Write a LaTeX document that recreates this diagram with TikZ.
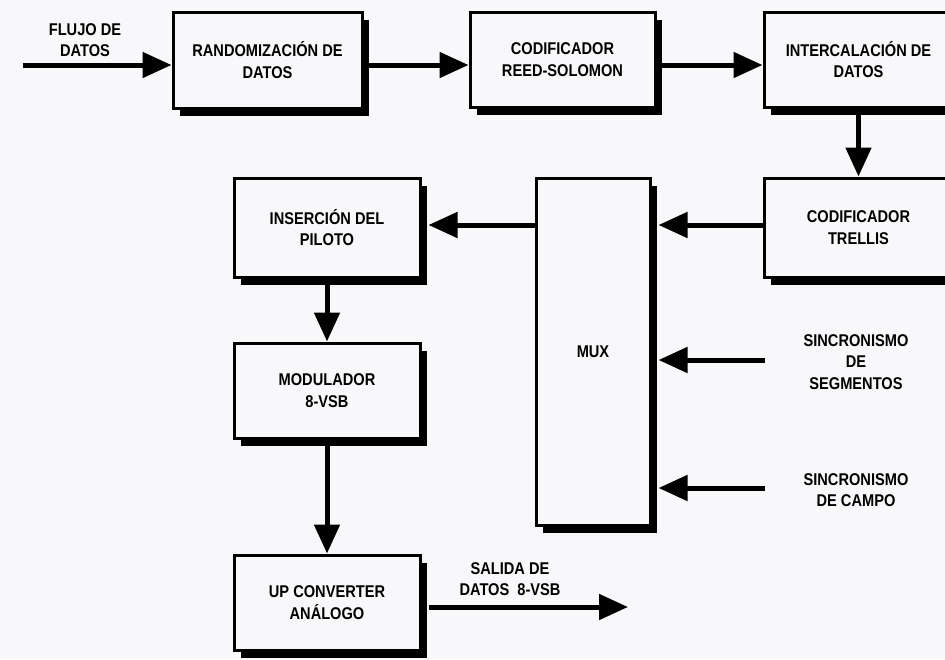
\documentclass[tikz,border=0pt]{standalone}
\usepackage{fontspec}
\newfontfamily\lbl{Liberation Sans}[FakeStretch=0.86]
\usetikzlibrary{arrows.meta,shadows,calc}
\definecolor{paper}{RGB}{248,247,249}
\begin{document}
\begin{tikzpicture}[x=1pt,y=-1pt,
  block/.style={draw=black, line width=3pt, fill=paper, rectangle, align=center,
    font=\lbl\bfseries\fontsize{17}{21.5}\selectfont, inner sep=0pt,
    drop shadow={shadow xshift=7pt, shadow yshift=-8pt, opacity=1, fill=black}},
  textlbl/.style={align=center, inner sep=0pt,
    font=\lbl\bfseries\fontsize{17}{21.5}\selectfont},
  flow/.style={line width=5pt, -{Triangle[length=29pt,width=25pt]}},
]
% page and background
\fill[paper] (0,0) rectangle (945,659);
\clip (0,0) rectangle (945,659);
\useasboundingbox (0,0) rectangle (945,659);

% processing blocks
\node[block, minimum width=189pt, minimum height=96pt] (rand) at (267.5,60) {RANDOMIZACIÓN DE\\DATOS};
\node[block, minimum width=185pt, minimum height=95pt] (rs) at (562.5,59.5) {CODIFICADOR\\REED-SOLOMON};
\node[block, minimum width=189pt, minimum height=95pt] (inter) at (858.5,59.5) {INTERCALACIÓN DE\\DATOS};
\node[block, minimum width=189pt, minimum height=99pt] (trellis) at (858.5,227.5) {CODIFICADOR\\TRELLIS};
\node[block, minimum width=114pt, minimum height=347pt] (mux) at (593,351.5) {MUX};
\node[block, minimum width=186pt, minimum height=99pt] (ins) at (327,227.5) {INSERCIÓN DEL\\PILOTO};
\node[block, minimum width=186pt, minimum height=95pt] (mod) at (327,390.5) {MODULADOR\\8-VSB};
\node[block, minimum width=186pt, minimum height=95pt] (up) at (327,602.5) {UP CONVERTER\\ANÁLOGO};

% free labels
\node[textlbl] (flujo) at (85,40) {FLUJO DE\\DATOS};
\node[textlbl] (segm) at (856,362) {SINCRONISMO\\DE\\SEGMENTOS};
\node[textlbl] (campo) at (856,490) {SINCRONISMO\\DE CAMPO};
\node[textlbl] (salida) at (510,579) {SALIDA DE\\DATOS\ \ 8-VSB};

% free ends of connectors
\coordinate (src) at (23,65);
\coordinate (s1) at (765,360);
\coordinate (s2) at (765,488);
\coordinate (out) at (628,607);

% connectors
\draw[flow] (src) -- (rand.west |- src);
\draw[flow] (rand.east |- src) -- (rs.west |- src);
\draw[flow] (rs.east |- src) -- (inter.west |- src);
\draw[flow] (inter.south) -- (trellis.north);
\draw[flow] (trellis.west |- 0,225) -- ($(mux.east |- 0,225)+(7,0)$);
\draw[flow] (mux.west |- 0,225) -- ($(ins.east |- 0,225)+(7,0)$);
\draw[flow] (ins.south) -- (mod.north);
\draw[flow] (mod.south) -- (up.north);
\draw[flow] (s1) -- ($(mux.east |- s1)+(7,0)$);
\draw[flow] (s2) -- ($(mux.east |- s2)+(7,0)$);
\draw[flow] ($(up.east |- out)+(7,0)$) -- (out);
\end{tikzpicture}
\end{document}
